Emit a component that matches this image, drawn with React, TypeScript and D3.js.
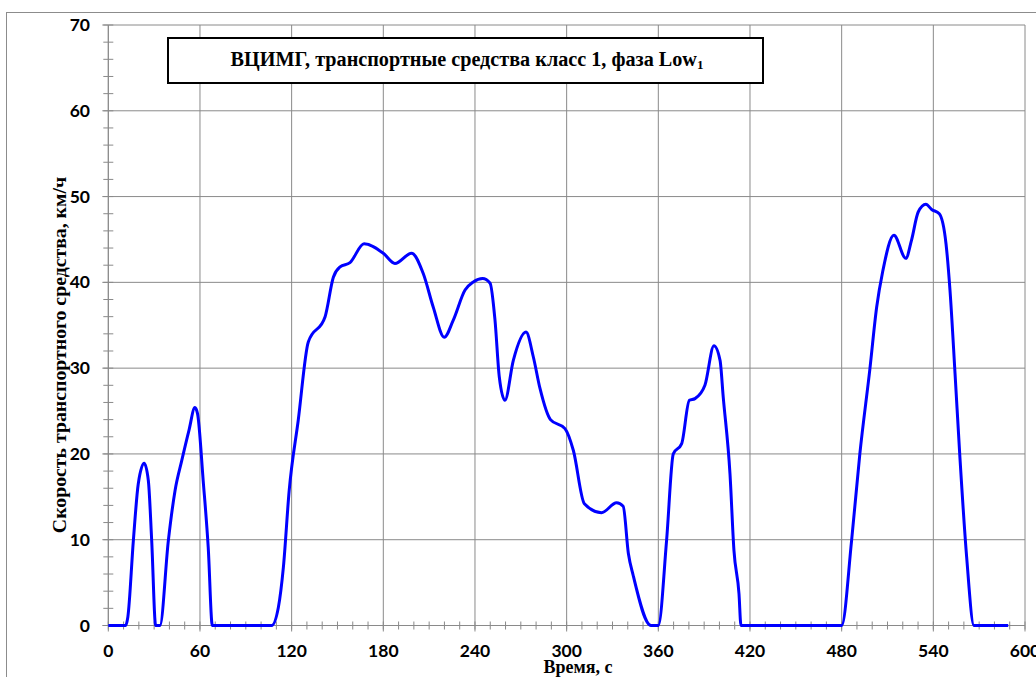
import React from "react";
import * as d3 from "d3";

// Time (s) and vehicle speed (km/h)
const timeValues: number[] = [
  0, 11.3, 12.8, 16.4, 19.6, 23.5, 26.2, 28.4, 31.0, 33.8, 39.3, 43.7, 48.1, 52.8, 56.7, 58.4,
  62.1, 65.4, 68.1, 106.9, 111.3, 114.6, 118.4, 124.3, 130.9, 141.9, 147.3, 151.7, 158.2, 167.4,
  180.0, 187.6, 198.5, 206.2, 212.7, 219.9, 225.8, 233.5, 238.9, 245.0, 249.9, 253.1, 255.9,
  259.6, 265.1, 273.4, 278.2, 282.6, 289.4, 298.9, 304.4, 311.6, 322.8, 332.7, 337.0, 340.4,
  343.6, 355.2, 360.0, 365.4, 369.8, 375.3, 380.3, 384.0, 390.5, 396.4, 400.4, 402.5, 406.9,
  409.5, 412.8, 414.1, 480.0, 486.5, 491.9, 498.5, 502.9, 506.8, 514.2, 522.0, 525.7, 530.1,
  535.1, 538.9, 543.9, 548.3, 550.9, 554.2, 557.4, 561.8, 566.6, 589,
];
const speedValues: number[] = [
  0, 0, 1, 9.9, 16.5, 18.9, 16.9, 9.9, 0, 0, 9.9, 15.75, 19.25, 22.75, 25.4, 24.7,
  16.9, 9.1, 0, 0, 2.1, 6.8, 15.75, 23.9, 33.05, 36.0, 40.6, 41.8, 42.3, 44.5,
  43.4, 42.2, 43.4, 41.0, 37.1, 33.6, 35.6, 39.1, 40.05, 40.45, 39.9, 35.6, 29.0,
  26.25, 30.9, 34.2, 31.3, 27.6, 24.0, 22.95, 20.4, 14.2, 13.15, 14.3, 13.9, 8.4,
  5.8, 0, 0, 9.9, 20.0, 21.2, 26.25, 26.45, 28.0, 32.6, 30.9, 26.6, 17.7,
  8.75, 3.7, 0, 0, 9.9, 20.0, 29.95, 37.1, 41.2, 45.5, 42.8, 44.9, 48.2,
  49.1, 48.5, 48.0, 44.5, 39.1, 29.4, 19.6, 8.0, 0, 0,
];

const xTicks: number[] = [0, 60, 120, 180, 240, 300, 360, 420, 480, 540, 600];
const yTicks: number[] = [0, 10, 20, 30, 40, 50, 60, 70];
const xMinorTicks: number[] = d3.range(0, 601, 10);
const yMinorTicks: number[] = d3.range(0, 71, 2);

const titleMain = "ВЦИМГ, транспортные средства класс 1, фаза Low";
const titleSub = "1";
const yTitle = "Скорость транспортного средства, км/ч";
const xTitle = "Время, с";

export default function App() {
  const W = 1036;
  const H = 677;
  const left = 108.3;
  const right = 1025;
  const top = 25;
  const bottom = 625.5;

  const x = d3.scaleLinear().domain([0, 600]).range([left, right]);
  const y = d3.scaleLinear().domain([0, 70]).range([bottom, top]);

  const pts: [number, number][] = timeValues.map((t, i) => [t, speedValues[i]]);
  const line = d3
    .line<[number, number]>()
    .x((d) => x(d[0]))
    .y((d) => y(d[1]))
    .curve(d3.curveMonotoneX);

  const grid = "#8a8a8a";
  const tickFont = "Lato, 'Open Sans', sans-serif";
  const serif = "'Liberation Serif', 'Times New Roman', serif";

  return (
    <svg
      width={W}
      height={H}
      style={{ position: "absolute", left: 0, top: 0, background: "#fff" }}
    >
      <rect x={0} y={0} width={W} height={H} fill="#fff" />
      <rect x={6.5} y={12.5} width={1200} height={800} fill="none" stroke="#8c8c8c" strokeWidth={1} />

      {/* horizontal gridlines */}
      {yTicks.map((v) => (
        <line key={"hy" + v} x1={left} x2={right} y1={y(v)} y2={y(v)} stroke={grid} strokeWidth={1} />
      ))}
      {/* vertical gridlines */}
      {xTicks.map((v) => (
        <line key={"vx" + v} x1={x(v)} x2={x(v)} y1={top} y2={bottom + 6} stroke={grid} strokeWidth={1} />
      ))}
      {/* y axis */}
      <line x1={left} x2={left} y1={top} y2={bottom} stroke={grid} strokeWidth={1} />
      {yMinorTicks.map((v) => (
        <line key={"my" + v} x1={left - 5} x2={left + 5} y1={y(v)} y2={y(v)} stroke={grid} strokeWidth={1} />
      ))}
      {yTicks.map((v) => (
        <line key={"My" + v} x1={left - 6} x2={left} y1={y(v)} y2={y(v)} stroke={grid} strokeWidth={1} />
      ))}
      {/* x axis minor ticks */}
      {xMinorTicks.map((v) => (
        <line key={"mx" + v} x1={x(v)} x2={x(v)} y1={bottom - 4} y2={bottom + 4} stroke={grid} strokeWidth={1} />
      ))}

      {/* tick labels */}
      {yTicks.map((v) => (
        <text
          key={"ly" + v}
          x={90}
          y={y(v) + 6}
          textAnchor="end"
          fontFamily={tickFont}
          fontWeight={700}
          fontSize={17.5}
          fill="#000"
        >
          {v}
        </text>
      ))}
      {xTicks.map((v) => (
        <text
          key={"lx" + v}
          x={x(v)}
          y={657}
          textAnchor="middle"
          fontFamily={tickFont}
          fontWeight={700}
          fontSize={17.5}
          fill="#000"
        >
          {v}
        </text>
      ))}

      {/* data line */}
      <path d={line(pts) || ""} fill="none" stroke="#0000ff" strokeWidth={3} strokeLinejoin="round" />

      {/* title box */}
      <rect x={168} y={38} width={595} height={45} fill="#fff" stroke="#000" strokeWidth={2} />
      <text x={467} y={66} textAnchor="middle" fontFamily={serif} fontWeight={700} fontSize={20.2} fill="#000">
        {titleMain}
        <tspan fontSize={13} dy={3}>{titleSub}</tspan>
      </text>

      {/* axis titles */}
      <text
        transform={`translate(66,355) rotate(-90)`}
        textAnchor="middle"
        fontFamily={serif}
        fontWeight={700}
        fontSize={19.8}
        fill="#000"
      >
        {yTitle}
      </text>
      <text x={578} y={673} textAnchor="middle" fontFamily={serif} fontWeight={700} fontSize={18}>
        {xTitle}
      </text>
    </svg>
  );
}
